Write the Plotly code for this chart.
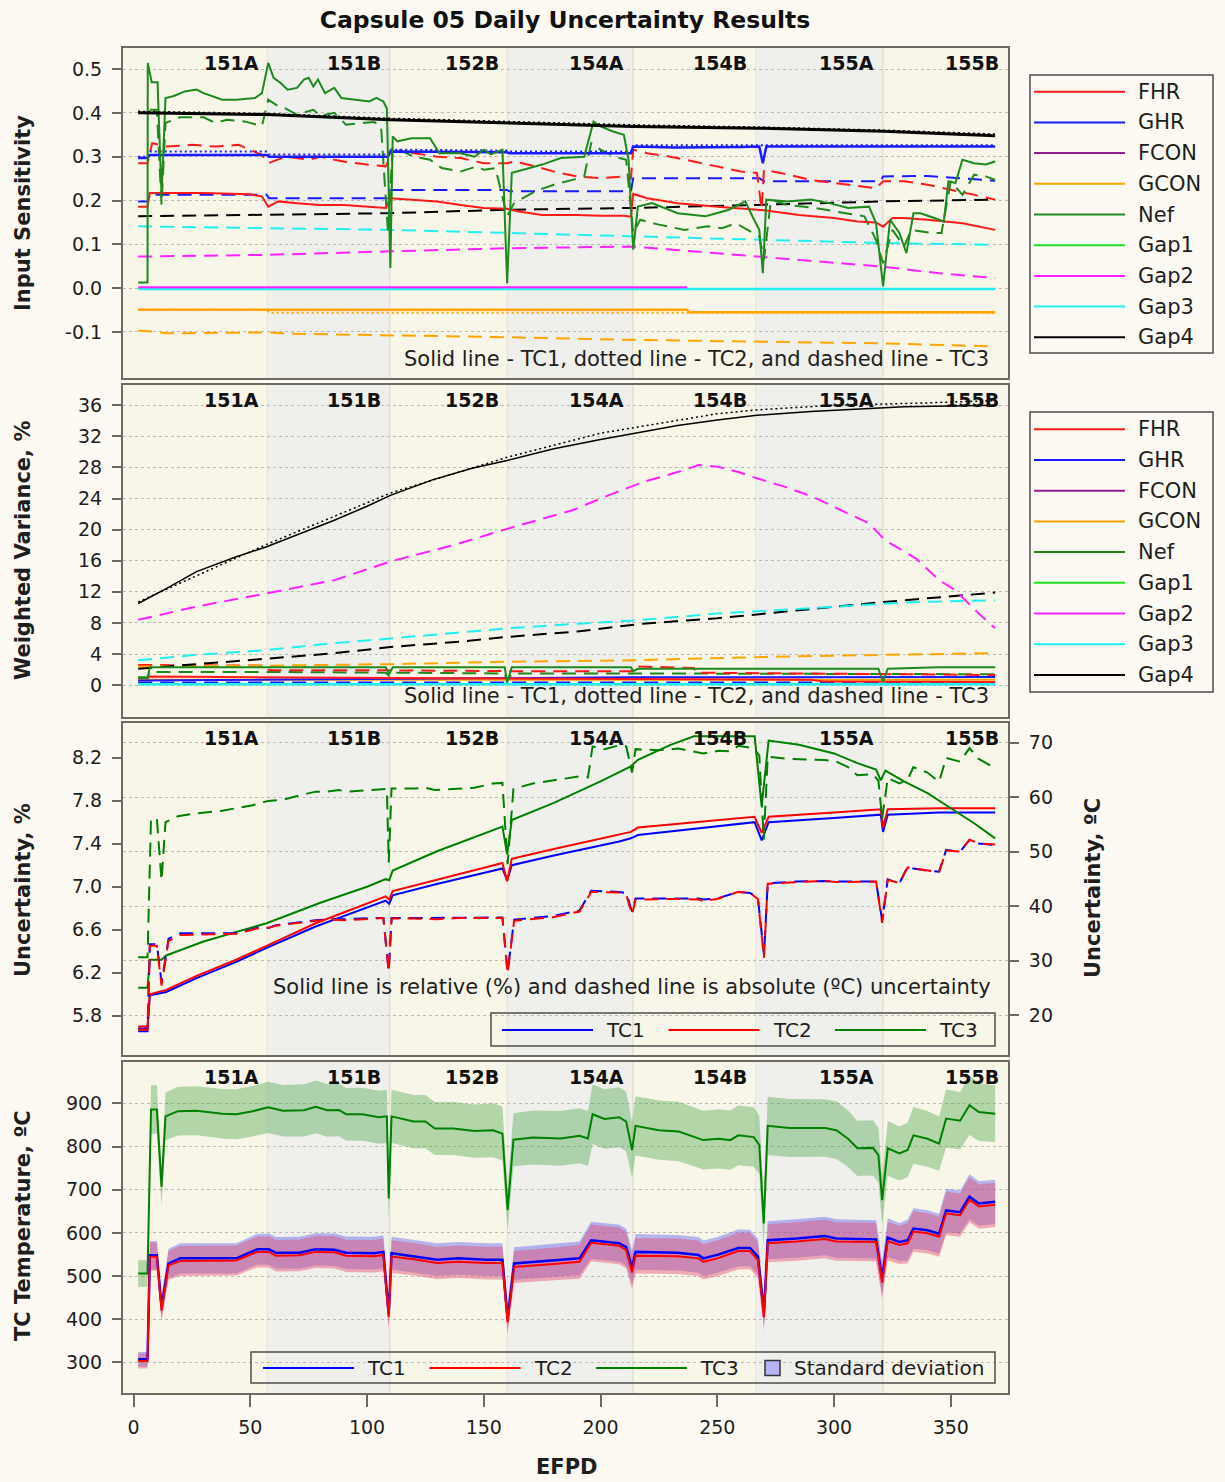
import plotly.graph_objects as go

W, H = 1225, 1482


def fx(p):
    return p / W


def fy(p):
    return 1 - p / H


# ---------------- cycles ----------------
cycle_names = ["151A", "151B", "152B", "154A", "154B", "155A", "155B"]
cycle_ends = [57.4, 109.7, 160.2, 213.8, 266.6, 320.9, 374.5]
efpd_start = -4.5

params = ["FHR", "GHR", "FCON", "GCON", "Nef", "Gap1", "Gap2", "Gap3", "Gap4"]
param_colors = ["#FF1A1A", "#1A1AFF", "#8B1F8B", "#FFA500", "#1E8A1E",
                "#22DD22", "#FF22FF", "#22F0F0", "#000000"]
tc_names = ["TC1", "TC2", "TC3"]
tc_colors = ["#0000FF", "#FF0000", "#008000"]

# ---------------- panel 1: input sensitivity ----------------
nef1_x = [2, 6, 6.1, 7.8, 10.3, 12, 13.7, 17, 22, 27, 30, 38, 44, 52, 55, 57.7, 60, 63, 66, 70,
          73, 75, 77, 79, 82, 86, 89, 95, 101, 104, 107, 108.5, 110, 111, 113, 119, 127, 131, 140, 146,
          150, 153, 158, 160, 162, 167, 175, 183, 193, 197, 200, 205, 210, 212, 214, 216, 222, 233, 245, 255,
          262, 265, 268, 269.5, 271, 280, 290, 298, 306, 315, 318, 321, 324, 328, 331, 334, 337, 343, 347, 349,
          352, 355, 360, 365, 369]
nef1_y = [0.013, 0.013, 0.514, 0.47, 0.47, 0.21, 0.434, 0.438, 0.449, 0.453, 0.445, 0.43, 0.43, 0.434, 0.445,
          0.514, 0.48, 0.468, 0.453, 0.457, 0.476, 0.48, 0.46, 0.476, 0.445, 0.457, 0.434, 0.43, 0.426, 0.434,
          0.426, 0.41, 0.046, 0.346, 0.335, 0.342, 0.342, 0.308, 0.308, 0.30, 0.316, 0.305, 0.316, 0.011, 0.263,
          0.27, 0.282, 0.297, 0.30, 0.38, 0.369, 0.358, 0.35, 0.293, 0.088, 0.186, 0.194, 0.171, 0.164, 0.179,
          0.198, 0.164, 0.133, 0.034, 0.202, 0.198, 0.202, 0.194, 0.183, 0.186, 0.148, 0.004, 0.156, 0.126, 0.08,
          0.171, 0.171, 0.16, 0.152, 0.244, 0.24, 0.293, 0.285, 0.282, 0.289]
nef3_x = [7, 10, 12, 13.7, 20, 30, 35, 40, 48, 55, 57.7, 62, 65, 70, 77, 80, 86, 91, 97, 103,
          106, 109, 111, 120, 127, 132, 140, 147, 150, 155, 160, 163, 172, 180, 188, 193, 196, 200, 206, 211,
          214, 217, 225, 236, 246, 252, 258, 265, 268, 270, 273, 280, 292, 305, 313, 318, 321, 325, 330, 333,
          342, 346, 350, 355, 360, 365, 369]
nef3_y = [0.407, 0.407, 0.19, 0.377, 0.39, 0.39, 0.377, 0.384, 0.38, 0.37, 0.43, 0.415, 0.41, 0.396, 0.407,
          0.393, 0.40, 0.373, 0.376, 0.379, 0.37, 0.126, 0.323, 0.30, 0.293, 0.274, 0.266, 0.278, 0.27, 0.274,
          0.164, 0.194, 0.221, 0.236, 0.247, 0.255, 0.331, 0.316, 0.30, 0.293, 0.126, 0.156, 0.145, 0.133, 0.141,
          0.137, 0.148, 0.126, 0.118, 0.065, 0.202, 0.19, 0.183, 0.171, 0.164, 0.11, 0.057, 0.133, 0.095, 0.133,
          0.126, 0.126, 0.244, 0.213, 0.259, 0.255, 0.247]
fhr1_x = [2, 6, 7, 14, 30, 50, 55, 57.7, 62, 70, 80, 90, 100, 108, 110, 120, 130, 140, 150, 160,
          165, 175, 190, 200, 210, 213, 214, 220, 233, 250, 265, 270, 285, 300, 310, 318, 321, 325, 330, 340,
          355, 369]
fhr1_y = [0.186, 0.186, 0.217, 0.217, 0.217, 0.214, 0.209, 0.186, 0.198, 0.194, 0.19, 0.19, 0.186, 0.183,
          0.205, 0.202, 0.198, 0.19, 0.183, 0.181, 0.175, 0.167, 0.167, 0.165, 0.165, 0.163, 0.215, 0.205, 0.194,
          0.186, 0.179, 0.178, 0.167, 0.16, 0.152, 0.15, 0.14, 0.16, 0.16, 0.156, 0.148, 0.133]
fhr3_x = [2, 6, 8, 14, 25, 35, 45, 55, 57.7, 65, 75, 80, 86, 90, 100, 108, 111, 120, 130, 140,
          150, 160, 163, 172, 180, 190, 200, 210, 213, 214, 220, 230, 240, 250, 260, 267, 269, 270, 277, 290,
          305, 318, 321, 330, 340, 350, 360, 369]
fhr3_y = [0.285, 0.285, 0.331, 0.323, 0.327, 0.323, 0.327, 0.304, 0.285, 0.30, 0.293, 0.30, 0.293, 0.289,
          0.282, 0.278, 0.312, 0.308, 0.30, 0.297, 0.285, 0.285, 0.289, 0.278, 0.266, 0.255, 0.251, 0.255, 0.25,
          0.316, 0.308, 0.30, 0.289, 0.278, 0.266, 0.263, 0.18, 0.27, 0.263, 0.247, 0.236, 0.228, 0.244, 0.244,
          0.236, 0.225, 0.213, 0.202]
ghr1_x = [2, 6, 7, 57, 58, 109, 110, 160, 161, 213, 214, 232, 260, 268, 269.5, 271, 369]
ghr1_y = [0.297, 0.297, 0.304, 0.304, 0.30, 0.30, 0.312, 0.31, 0.308, 0.308, 0.323, 0.321, 0.322, 0.323,
          0.285, 0.323, 0.323]
ghr2_x = [2, 6, 7, 57, 58, 109, 110, 160, 161, 213, 214, 369]
ghr2_y = [0.30, 0.30, 0.312, 0.312, 0.305, 0.305, 0.316, 0.314, 0.312, 0.312, 0.326, 0.326]
ghr3_x = [2, 6, 7, 57, 58, 109, 110, 160, 161, 213, 214, 268, 270, 320, 321, 340, 369]
ghr3_y = [0.198, 0.198, 0.213, 0.213, 0.205, 0.205, 0.224, 0.224, 0.221, 0.221, 0.251, 0.251, 0.244, 0.244,
          0.255, 0.256, 0.245]
gap_x = [2, 57, 110, 160, 214, 267, 321, 369]
gap4_1_y = [0.40, 0.396, 0.384, 0.377, 0.369, 0.365, 0.358, 0.348]
gap4_2_y = [0.403, 0.398, 0.387, 0.379, 0.372, 0.367, 0.36, 0.351]
gap4_3_y = [0.164, 0.167, 0.171, 0.179, 0.183, 0.19, 0.198, 0.202]
gap3_3_y = [0.141, 0.137, 0.133, 0.126, 0.118, 0.11, 0.103, 0.099]
gap2_3_x = [2, 57, 110, 160, 214, 240, 267, 295, 321, 345, 369]
gap2_3_y = [0.072, 0.076, 0.084, 0.091, 0.095, 0.084, 0.072, 0.061, 0.049, 0.034, 0.023]
gap2_1_x = [2, 237]
gap2_1_y = [0.002, 0.002]
gap3_1_x = [2, 369]
gap3_1_y = [-0.002, -0.002]
gcon1_x = [2, 237, 238, 369]
gcon1_y = [-0.049, -0.049, -0.055, -0.055]
gcon2_x = [2, 57, 58, 369]
gcon2_y = [-0.049, -0.049, -0.056, -0.056]
gcon3_x = [2, 8, 14, 57, 69, 110, 160, 214, 267, 321, 369]
gcon3_y = [-0.097, -0.099, -0.103, -0.101, -0.104, -0.107, -0.112, -0.118, -0.122, -0.126, -0.133]
sens_ticks = [-0.1, 0.0, 0.1, 0.2, 0.3, 0.4, 0.5]

# ---------------- panel 2: weighted variance (%) ----------------
wv_gap4_1_x = [2, 14, 27, 44, 57, 70, 86, 100, 110, 128, 145, 160, 180, 200, 214, 233, 250, 267, 290, 310,
               330, 369]
wv_gap4_1_y = [10.5, 12.4, 14.6, 16.5, 17.8, 19.3, 21.2, 23.0, 24.4, 26.4, 27.9, 28.9, 30.4, 31.6, 32.4, 33.4,
               34.1, 34.7, 35.2, 35.5, 35.8, 36.0]
wv_gap4_2_x = [2, 57, 110, 160, 200, 250, 267, 300, 340, 369]
wv_gap4_2_y = [10.7, 18.1, 24.7, 29.3, 32.4, 34.9, 35.4, 36.0, 36.3, 36.6]
wv_gap2_3_x = [2, 27, 57, 86, 110, 137, 160, 188, 205, 218, 233, 242, 250, 259, 267, 279, 291, 303, 315, 322,
               335, 345, 352, 362, 369]
wv_gap2_3_y = [8.4, 10.1, 11.8, 13.5, 15.9, 18.0, 20.1, 22.5, 24.6, 26.1, 27.4, 28.3, 28.1, 27.4, 26.6, 25.5,
               24.2, 22.5, 20.8, 18.6, 16.3, 13.5, 12.2, 9.2, 7.3]
wv_gap3_3_x = [2, 27, 57, 86, 110, 145, 160, 190, 214, 250, 290, 320, 335, 369]
wv_gap3_3_y = [3.2, 3.9, 4.5, 5.4, 6.0, 6.9, 7.3, 7.9, 8.3, 9.2, 9.9, 10.4, 10.7, 10.9]
wv_gap4_3_x = [2, 30, 57, 86, 110, 140, 160, 190, 208, 218, 250, 284, 318, 349, 369]
wv_gap4_3_y = [2.1, 2.8, 3.4, 4.1, 4.9, 5.6, 6.2, 6.9, 7.5, 7.9, 8.6, 9.6, 10.6, 11.4, 11.9]
wv_gcon3_x = [2, 57, 110, 160, 214, 267, 321, 369]
wv_gcon3_y = [2.4, 2.5, 2.7, 3.0, 3.2, 3.6, 3.9, 4.1]
wv_nef1_x = [2, 6, 7, 108, 109.5, 111, 159, 160, 162, 213, 214, 216, 319, 321, 323, 345, 369]
wv_nef1_y = [0.9, 0.9, 2.3, 2.3, 1.4, 2.3, 2.3, 0.3, 2.3, 2.3, 1.8, 2.1, 2.1, 0.4, 2.1, 2.3, 2.3]
wv_nef3_x = [2, 6, 7, 57, 108, 109.5, 111, 159, 160, 162, 214, 369]
wv_nef3_y = [1.0, 1.0, 1.7, 1.7, 1.6, 1.2, 1.6, 1.5, 0.5, 1.5, 1.5, 1.4]
wv_fhr3_x = [2, 57, 58, 110, 160, 214, 215, 240, 241, 300, 369]
wv_fhr3_y = [2.6, 2.5, 1.9, 1.9, 1.8, 1.8, 2.4, 2.2, 1.6, 1.5, 1.3]
wv_fhr1_x = [2, 6, 7, 57, 110, 214, 290, 296, 369]
wv_fhr1_y = [0.9, 0.9, 1.1, 1.0, 0.9, 0.8, 0.7, 0.45, 0.4]
wv_ghr1_x = [2, 214, 369]
wv_ghr1_y = [0.6, 1.0, 1.05]
wv_ghr3_x = [2, 369]
wv_ghr3_y = [0.35, 0.35]
wv_gcon1_x = [2, 369]
wv_gcon1_y = [0.7, 0.7]
wv_gap3_1_x = [2, 369]
wv_gap3_1_y = [0.1, 0.1]
wv_ticks = [0, 4, 8, 12, 16, 20, 24, 28, 32, 36]

# ---------------- panel 3: relative uncertainty (%) ----------------
rel_tc12_x = [2, 6, 7, 14, 27, 44, 57, 78, 108, 109.5, 111, 129, 158, 160, 162, 180, 208, 213, 216, 240,
              266, 269, 272, 300, 320, 321, 323, 345, 369]
rel_tc1_y = [5.68, 5.68, 5.99, 6.02, 6.15, 6.30, 6.43, 6.63, 6.87, 6.84, 6.92, 7.02, 7.17, 7.06, 7.20, 7.29,
             7.42, 7.45, 7.48, 7.54, 7.60, 7.43, 7.60, 7.64, 7.67, 7.51, 7.67, 7.69, 7.69]
rel_tc2_y = [5.70, 5.70, 6.00, 6.04, 6.17, 6.32, 6.45, 6.66, 6.91, 6.88, 6.96, 7.06, 7.22, 7.05, 7.26, 7.35,
             7.48, 7.51, 7.55, 7.60, 7.65, 7.50, 7.65, 7.69, 7.72, 7.55, 7.72, 7.73, 7.73]
rel_tc3_x = [2, 6, 7, 12, 14, 30, 57, 80, 100, 108, 109.5, 111, 130, 158, 160, 162, 180, 200, 213, 216,
             230, 240, 255, 266, 269, 272, 285, 300, 310, 318, 320, 322, 330, 340, 350, 360, 369]
rel_tc3_y = [6.06, 6.06, 6.32, 6.32, 6.36, 6.49, 6.66, 6.85, 7.00, 7.07, 7.06, 7.15, 7.33, 7.56, 7.30, 7.62,
             7.78, 7.98, 8.12, 8.18, 8.32, 8.40, 8.40, 8.40, 7.75, 8.36, 8.32, 8.24, 8.15, 8.09, 7.99, 8.08,
             7.98, 7.87, 7.73, 7.59, 7.45]
rel_ticks = [5.8, 6.2, 6.6, 7.0, 7.4, 7.8, 8.2]
abs_ticks = [20, 30, 40, 50, 60, 70]

# ---------------- panel 4: TC temperatures and 1-sigma (absolute uncertainty, C) ----------------
tc12_x = [2, 6, 7, 10, 12, 15, 20, 44, 53, 58, 61, 71, 78, 86, 91, 103, 107, 109.3, 110.5, 120,
          130, 139, 151, 158, 160.2, 163, 180, 191, 196, 208, 211, 213.5, 215, 233, 242, 244, 250, 259, 264, 267.4,
          270, 271.6, 284, 296, 301, 318, 320.6, 323, 328, 331.5, 334, 340, 345, 348, 354, 358, 362, 369]
tc1_temp = [307, 307, 548, 548, 429, 529, 541, 541, 562, 562, 554, 554, 562, 561, 554, 553, 556, 412, 553, 546,
            538, 541, 538, 538, 402, 529, 536, 541, 583, 576, 567, 520, 556, 554, 549, 541, 549, 565, 565, 545,
            415, 583, 587, 593, 587, 585, 495, 589, 579, 583, 610, 606, 598, 652, 648, 684, 668, 672]
tc2_temp = [303, 303, 545, 545, 420, 525, 535, 536, 556, 556, 547, 548, 556, 555, 547, 546, 549, 405, 545, 539,
            530, 533, 530, 530, 393, 521, 528, 533, 577, 570, 560, 508, 547, 546, 541, 533, 541, 558, 558, 537,
            404, 576, 580, 586, 580, 579, 485, 581, 572, 576, 603, 599, 591, 645, 641, 677, 661, 665]
tc1_std = [17, 17, 33, 33, 26, 34, 35, 35, 36, 36, 36.5, 37, 37.4, 37.6, 37.6, 37.8, 37.8, 28, 37.8, 37.8,
           37.8, 37.9, 37.9, 37.9, 28, 37.5, 38.2, 39.2, 42.8, 42.6, 42.4, 39, 41.4, 41.4, 41.4, 41.2, 41.4, 42.6,
           42.4, 41.5, 31, 44.2, 44.5, 44.6, 44.5, 44.5, 37.4, 44.9, 44.2, 47.2, 46.9, 46.5, 46.3, 50.3, 50.0,
           52.1, 51.5, 51.2]
tc2_std = [17.3, 17.3, 32.7, 32.7, 25.4, 33.6, 34.7, 34.9, 35.9, 36.0, 36.4, 36.9, 37.3, 37.5, 37.4, 37.7,
           37.8, 27.8, 37.7, 37.7, 37.6, 37.8, 37.8, 37.8, 27.6, 37.3, 38.0, 39.0, 42.6, 42.5, 42.1, 38.4, 41.2,
           41.3, 41.2, 40.9, 41.3, 42.6, 42.4, 41.3, 30.5, 44.1, 44.4, 44.6, 44.4, 44.5, 36.9, 44.8, 44.2, 47.1,
           46.9, 46.5, 46.2, 50.2, 50.0, 52.2, 51.5, 51.3]
tc3_x = [2, 6, 7.5, 10, 12, 13.7, 19, 27, 38, 44, 51, 57.7, 64, 73, 78, 83, 88, 91, 98, 105,
         108.5, 109.3, 110.5, 120, 125, 129, 137, 146, 154, 158, 160.2, 162.7, 171, 183, 191, 194.6, 196.6, 201.7,
         208, 211, 213.5, 215, 225, 233.5, 244, 250.5, 255.6, 259, 265.6, 268, 269.9, 271.6, 281, 296, 301, 306,
         310, 316.7, 319, 320.6, 323, 328, 331.5, 334, 340, 345, 348, 354, 358, 362, 369]
tc3_temp = [506, 506, 886, 886, 707, 870, 882, 883, 876, 875, 882, 891, 883, 884, 892, 884, 885, 875, 875, 868,
            870, 680, 870, 858, 858, 842, 842, 836, 838, 830, 653, 816, 821, 819, 825, 819, 875, 864, 868, 858,
            792, 848, 838, 835, 815, 818, 815, 826, 822, 804, 622, 848, 843, 843, 838, 818, 796, 797, 780, 676,
            796, 784, 792, 826, 818, 807, 865, 860, 896, 880, 876]
tc3_std = [30.6, 30.6, 56.0, 56.0, 44.7, 55.4, 56.5, 57.0, 57.5, 58.0, 58.5, 59.3, 59.5, 60.5, 61.0, 61.0,
           61.3, 61.0, 61.2, 61.4, 61.5, 48.0, 61.6, 61.6, 61.7, 61.3, 61.5, 61.7, 62.5, 62.6, 47.7, 61.5, 62.5,
           63.3, 63.8, 63.6, 69.3, 68.8, 69.5, 69.3, 64.5, 68.8, 68.6, 68.9, 68.0, 68.5, 68.4, 69.4, 69.0, 67.6,
           52.2, 67.4, 67.0, 66.8, 66.5, 65.5, 64.0, 64.2, 63.0, 56.0, 63.5, 62.5, 63.2, 65.5, 64.5, 62.8, 67.2,
           66.5, 69.0, 67.0, 65.3]
temp_ticks = [300, 400, 500, 600, 700, 800, 900]
efpd_ticks = [0, 50, 100, 150, 200, 250, 300, 350]

# ---------------- styling ----------------
FONT = "DejaVu Sans"
TXT = "#1E1E1E"
PAGE_BG = "#FCFAF3"
PLOT_BG = "#F8F6E9"
BAND_BG = "#EFEFEC"
FRAME = "#6E6A5E"
GRID = "#BDBBB4"
SOLID, DOT, DASH = "solid", "2px,3px", "14px,8px"
colors = dict(zip(params, param_colors))

fig = go.Figure()


def line(xs, ys, color, dash, xa, ya, width=2.0):
    fig.add_trace(go.Scatter(x=xs, y=ys, mode="lines",
                             line=dict(color=color, width=width, dash=dash),
                             xaxis=xa, yaxis=ya, showlegend=False, hoverinfo="skip"))


# panel 1 traces
P1 = ("x", "y")
line(gcon3_x, gcon3_y, colors["GCON"], DASH, *P1)
line(gap_x, gap3_3_y, colors["Gap3"], DASH, *P1)
line(gap2_3_x, gap2_3_y, colors["Gap2"], DASH, *P1)
line(gap_x, gap4_3_y, colors["Gap4"], DASH, *P1)
line(ghr3_x, ghr3_y, colors["GHR"], DASH, *P1)
line(fhr3_x, fhr3_y, colors["FHR"], DASH, *P1)
line(nef3_x, nef3_y, colors["Nef"], DASH, *P1)
line(gcon2_x, gcon2_y, colors["GCON"], DOT, *P1)
line(ghr2_x, ghr2_y, colors["GHR"], DOT, *P1)
line(gap_x, gap4_2_y, colors["Gap4"], DOT, *P1)
line(gap3_1_x, gap3_1_y, colors["Gap3"], SOLID, *P1, width=2.5)
line(gap2_1_x, gap2_1_y, colors["Gap2"], SOLID, *P1)
line(gcon1_x, gcon1_y, colors["GCON"], SOLID, *P1, width=2.5)
line(ghr1_x, ghr1_y, colors["GHR"], SOLID, *P1, width=2.5)
line(fhr1_x, fhr1_y, colors["FHR"], SOLID, *P1)
line(nef1_x, nef1_y, colors["Nef"], SOLID, *P1)
line(gap_x, gap4_1_y, colors["Gap4"], SOLID, *P1, width=3)

# panel 2 traces
P2 = ("x2", "y2")
line(wv_ghr3_x, wv_ghr3_y, colors["GHR"], DASH, *P2)
line(wv_nef3_x, wv_nef3_y, colors["Nef"], DASH, *P2)
line(wv_fhr3_x, wv_fhr3_y, colors["FHR"], DASH, *P2)
line(wv_gcon3_x, wv_gcon3_y, colors["GCON"], DASH, *P2)
line(wv_gap4_3_x, wv_gap4_3_y, colors["Gap4"], DASH, *P2)
line(wv_gap3_3_x, wv_gap3_3_y, colors["Gap3"], DASH, *P2)
line(wv_gap2_3_x, wv_gap2_3_y, colors["Gap2"], DASH, *P2)
line(wv_gap4_2_x, wv_gap4_2_y, colors["Gap4"], DOT, *P2, width=1.5)
line(wv_gap3_1_x, wv_gap3_1_y, colors["Gap3"], SOLID, *P2, width=2.5)
line(wv_gcon1_x, wv_gcon1_y, colors["GCON"], SOLID, *P2)
line(wv_ghr1_x, wv_ghr1_y, colors["GHR"], SOLID, *P2)
line(wv_fhr1_x, wv_fhr1_y, colors["FHR"], SOLID, *P2)
line(wv_nef1_x, wv_nef1_y, colors["Nef"], SOLID, *P2)
line(wv_gap4_1_x, wv_gap4_1_y, colors["Gap4"], SOLID, *P2, width=1.5)

# panel 3 traces: dashed = absolute (right axis), solid = relative (left axis)
line(tc12_x, tc1_std, tc_colors[0], DASH, "x3", "y5")
line(tc12_x, tc2_std, tc_colors[1], DASH, "x3", "y5")
line(tc3_x, tc3_std, tc_colors[2], DASH, "x3", "y5")
line(rel_tc12_x, rel_tc1_y, tc_colors[0], SOLID, "x3", "y3")
line(rel_tc12_x, rel_tc2_y, tc_colors[1], SOLID, "x3", "y3")
line(rel_tc3_x, rel_tc3_y, tc_colors[2], SOLID, "x3", "y3")

# panel 4 traces: mean +/- one standard deviation bands, then the means
bands = [
    (tc3_x, tc3_temp, tc3_std, "rgba(40,150,40,0.33)"),
    (tc12_x, tc1_temp, tc1_std, "rgba(100,100,240,0.45)"),
    (tc12_x, tc2_temp, tc2_std, "rgba(230,80,110,0.45)"),
]
for xs, mean, sd, fill in bands:
    upper = [m + s for m, s in zip(mean, sd)]
    lower = [m - s for m, s in zip(mean, sd)]
    fig.add_trace(go.Scatter(x=xs, y=upper, mode="lines", line=dict(width=0),
                             xaxis="x4", yaxis="y4", showlegend=False, hoverinfo="skip"))
    fig.add_trace(go.Scatter(x=xs, y=lower, mode="lines", line=dict(width=0), fill="tonexty",
                             fillcolor=fill, xaxis="x4", yaxis="y4", showlegend=False, hoverinfo="skip"))
line(tc3_x, tc3_temp, tc_colors[2], SOLID, "x4", "y4")
line(tc12_x, tc1_temp, tc_colors[0], SOLID, "x4", "y4", width=2.5)
line(tc12_x, tc2_temp, tc_colors[1], SOLID, "x4", "y4")

# ---------------- axes ----------------
tickfont = dict(family=FONT, size=19, color=TXT)
frame = dict(showline=True, linecolor=FRAME, linewidth=2, mirror=True, zeroline=False)
x_dom = [fx(123), fx(1008)]
panels_px = [(48, 378), (385, 717), (723, 1055), (1062, 1393)]


def ydom(top, bottom):
    return [fy(bottom), fy(top)]


layout_axes = {}
for i, (top, bottom) in enumerate(panels_px):
    key = "xaxis" if i == 0 else f"xaxis{i + 1}"
    anchor = "y" if i == 0 else f"y{i + 1}"
    ax = dict(domain=x_dom, range=[efpd_start, cycle_ends[-1]], anchor=anchor,
              showgrid=False, showticklabels=False, ticks="", **frame)
    if i == 3:
        ax.update(showticklabels=True, ticks="outside", ticklen=12, tickwidth=1.5,
                  tickcolor=FRAME, tickvals=efpd_ticks, tickfont=tickfont, ticklabelstandoff=4)
    layout_axes[key] = ax


def yaxis(top, bottom, rng, ticks, fmt, anchor, grid=True):
    return dict(domain=ydom(top, bottom), range=rng, anchor=anchor,
                tickvals=ticks, ticktext=[fmt.format(v) for v in ticks],
                ticks="outside", ticklen=9, tickwidth=1.5, tickcolor=FRAME,
                tickfont=tickfont, ticklabelstandoff=6,
                showgrid=grid, gridcolor=GRID, gridwidth=1.2, griddash="dot", **frame)


layout_axes["yaxis"] = yaxis(48, 378, [-0.205, 0.548], sens_ticks, "{:.1f}", "x")
layout_axes["yaxis2"] = yaxis(385, 717, [-4.1, 38.6], wv_ticks, "{:d}", "x2")
layout_axes["yaxis3"] = yaxis(723, 1055, [5.434, 8.523], rel_ticks, "{:.1f}", "x3", grid=False)
layout_axes["yaxis4"] = yaxis(1062, 1393, [229, 996], temp_ticks, "{:d}", "x4")
layout_axes["yaxis4"]["griddash"] = "3px,3px"
y5 = yaxis(723, 1055, [12.66, 73.6], abs_ticks, "{:d}", "x3")
y5.update(overlaying="y3", side="right", mirror=False)
layout_axes["yaxis5"] = y5

# ---------------- cycle shading and labels ----------------
shapes = []
annotations = []
refs = [("x", "y domain"), ("x2", "y2 domain"), ("x3", "y3 domain"), ("x4", "y4 domain")]
for xr, yr in refs:
    start = efpd_start
    for j, (name, end) in enumerate(zip(cycle_names, cycle_ends)):
        if j % 2 == 1:
            shapes.append(dict(type="rect", xref=xr, yref=yr, x0=start, x1=end, y0=0, y1=1,
                               fillcolor=BAND_BG, line=dict(width=0), layer="below"))
        if j < len(cycle_ends) - 1:
            shapes.append(dict(type="line", xref=xr, yref=yr, x0=end, x1=end, y0=0, y1=1,
                               line=dict(color="#E4E0D0", width=1.5), layer="below"))
        annotations.append(dict(xref=xr, yref=yr, x=end, y=1, xanchor="right", yanchor="top",
                                xshift=-7, yshift=-2, showarrow=False, text=f"<b>{name}</b>",
                                font=dict(family=FONT, size=19, color="#111111")))
        start = end


def text(x, y, s, size=20, anchor="left", bold=False, angle=0):
    annotations.append(dict(xref="paper", yref="paper", x=fx(x), y=fy(y), xanchor=anchor,
                            yanchor="middle", showarrow=False, textangle=angle,
                            text=f"<b>{s}</b>" if bold else s,
                            font=dict(family=FONT, size=size, color=TXT)))


note_12 = "Solid line - TC1, dotted line - TC2, and dashed line - TC3"
note_3 = "Solid line is relative (%) and dashed line is absolute (ºC) uncertainty"
text(991, 359, note_12, size=21, anchor="right")
text(991, 696, note_12, size=21, anchor="right")
text(993, 987, note_3, size=21, anchor="right")

# axis titles
text(23, 213, "Input Sensitivity", size=21, anchor="center", bold=True, angle=-90)
text(23, 551, "Weighted Variance, %", size=21, anchor="center", bold=True, angle=-90)
text(23, 890, "Uncertainty, %", size=21, anchor="center", bold=True, angle=-90)
text(23, 1226, "TC Temperature, ºC", size=21, anchor="center", bold=True, angle=-90)
text(1093, 888, "Uncertainty, ºC", size=21, anchor="center", bold=True, angle=-90)
text(567, 1467, "EFPD", size=21, anchor="center", bold=True)


# ---------------- legends ----------------
def box(x0, y0, x1, y1):
    shapes.append(dict(type="rect", xref="paper", yref="paper", x0=fx(x0), x1=fx(x1),
                       y0=fy(y1), y1=fy(y0), line=dict(color="#4E4E4E", width=1.5),
                       fillcolor="rgba(0,0,0,0)", layer="above"))


def key_line(x0, x1, y, color):
    shapes.append(dict(type="line", xref="paper", yref="paper", x0=fx(x0), x1=fx(x1),
                       y0=fy(y), y1=fy(y), line=dict(color=color, width=2), layer="above"))


for top, bottom, first in [(75, 353, 91.7), (412, 692, 429.3)]:
    box(1030, top, 1213, bottom)
    for k, (name, col) in enumerate(zip(params, param_colors)):
        yy = first + k * 30.7
        key_line(1034, 1125, yy, col)
        text(1136, yy, name, size=21)

# panel 3 legend
box(491, 1013, 995, 1046)
for k, (name, col) in enumerate(zip(tc_names, tc_colors)):
    x0 = 502 + k * 166.5
    key_line(x0, x0 + 91, 1030, col)
    text(x0 + 102, 1030, name)

# panel 4 legend
box(251, 1352, 995, 1383)
for k, (name, col) in enumerate(zip(tc_names, tc_colors)):
    x0 = 263 + k * 166.5
    key_line(x0, x0 + 91, 1368, col)
    text(x0 + 102, 1368, name)
shapes.append(dict(type="rect", xref="paper", yref="paper", x0=fx(765), x1=fx(780),
                   y0=fy(1375.5), y1=fy(1360.5), fillcolor="#B4B4F4",
                   line=dict(color="#333333", width=1.5), layer="above"))
text(792, 1368, "Standard deviation")

fig.update_layout(
    width=W, height=H, autosize=False,
    margin=dict(l=0, r=0, t=0, b=0),
    paper_bgcolor=PAGE_BG, plot_bgcolor=PLOT_BG,
    font=dict(family=FONT, size=19, color=TXT),
    title=dict(text="<b>Capsule 05 Daily Uncertainty Results</b>", x=fx(565), y=fy(20),
               xref="paper", yref="paper", xanchor="center", yanchor="middle",
               font=dict(family=FONT, size=23.5, color="#111111")),
    showlegend=False,
    shapes=shapes,
    annotations=annotations,
    **layout_axes,
)

fig.write_html("out.html")
